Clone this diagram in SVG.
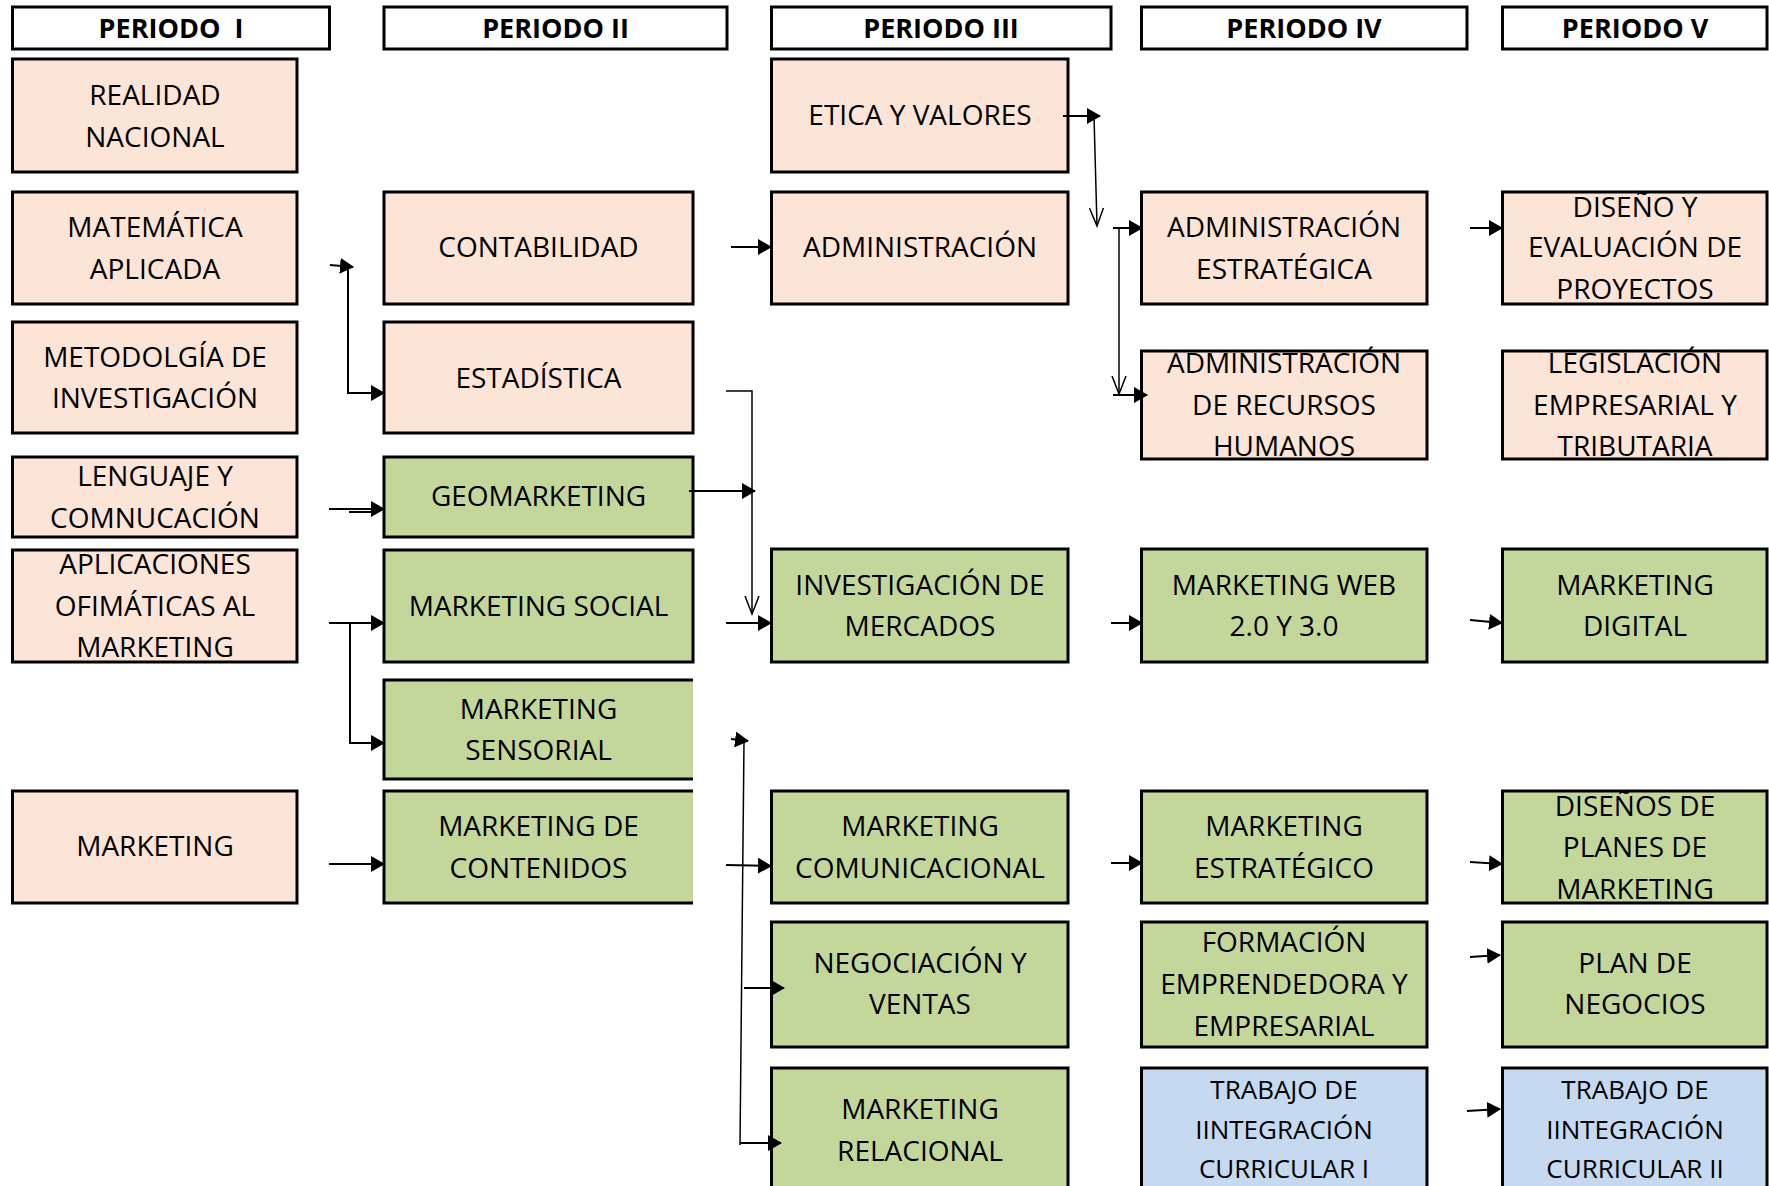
<svg xmlns="http://www.w3.org/2000/svg" width="1769" height="1186" viewBox="0 0 1769 1186">
<defs>
<style>
.hdr{fill:#fff;stroke:#000;stroke-width:3}
.peach{fill:#FCE4D6;stroke:#000;stroke-width:3}
.green{fill:#C4D79B;stroke:#000;stroke-width:3}
.blue{fill:#C5D9F1;stroke:#000;stroke-width:3}
.gfill{fill:#C4D79B;stroke:none}
.edge{fill:none;stroke:#000;stroke-width:3}
text{font-family:"Open Sans","Noto Sans","DejaVu Sans",sans-serif;font-size:28px;fill:#000;text-anchor:middle}
.h{font-weight:bold;font-size:27px;white-space:pre}
.s{font-size:26px}
.c{fill:none;stroke:#000;stroke-width:2}
.ct{fill:none;stroke:#000;stroke-width:1.5}
</style>
<marker id="ah" markerUnits="userSpaceOnUse" markerWidth="14" markerHeight="16" refX="13" refY="8" orient="auto"><path d="M0,0 L14,8 L0,16 z" fill="#000"/></marker>
<marker id="av" markerUnits="userSpaceOnUse" markerWidth="20" markerHeight="18" refX="18" refY="9" orient="auto"><path d="M0,2 L18,9 L0,16" fill="none" stroke="#000" stroke-width="1.5"/></marker>
</defs>
<rect width="1769" height="1186" fill="#fff"/>

<g id="headers">
<g id="h1"><rect class="hdr" x="12.5" y="7" width="317" height="42"/><text class="h" x="171" y="38">PERIODO  I</text></g>
<g id="h2"><rect class="hdr" x="384" y="7" width="343" height="42"/><text class="h" x="555.5" y="38">PERIODO II</text></g>
<g id="h3"><rect class="hdr" x="771.5" y="7" width="339.5" height="42"/><text class="h" x="941" y="38">PERIODO III</text></g>
<g id="h4"><rect class="hdr" x="1141.5" y="7" width="325.5" height="42"/><text class="h" x="1304" y="38">PERIODO IV</text></g>
<g id="h5"><rect class="hdr" x="1502.5" y="7" width="264.5" height="42"/><text class="h" x="1635" y="38">PERIODO V</text></g>
</g>

<g id="periodo1">
<g id="realidad"><rect class="peach" x="12.5" y="59" width="284.5" height="113"/><text x="155" y="105">REALIDAD</text><text x="155" y="146.5">NACIONAL</text></g>
<g id="matematica"><rect class="peach" x="12.5" y="192" width="284.5" height="112"/><text x="155" y="237">MATEMÁTICA</text><text x="155" y="278.5">APLICADA</text></g>
<g id="metodologia"><rect class="peach" x="12.5" y="322" width="284.5" height="111"/><text x="155" y="366.5">METODOLGÍA DE</text><text x="155" y="408">INVESTIGACIÓN</text></g>
<g id="lenguaje"><rect class="peach" x="12.5" y="457" width="284.5" height="80"/><text x="155" y="486">LENGUAJE Y</text><text x="155" y="528">COMNUCACIÓN</text></g>
<g id="aplicaciones"><rect class="peach" x="12.5" y="550" width="284.5" height="112"/><text x="155" y="574">APLICACIONES</text><text x="155" y="616">OFIMÁTICAS AL</text><text x="155" y="656.5">MARKETING</text></g>
<g id="marketing"><rect class="peach" x="12.5" y="791" width="284.5" height="112"/><text x="155" y="856">MARKETING</text></g>
</g>

<g id="periodo2">
<g id="contabilidad"><rect class="peach" x="384" y="192" width="309" height="112"/><text x="538.5" y="257">CONTABILIDAD</text></g>
<g id="estadistica"><rect class="peach" x="384" y="322" width="309" height="111"/><text x="538.5" y="388">ESTADÍSTICA</text></g>
<g id="geomarketing"><rect class="green" x="384" y="457" width="309" height="80"/><text x="538.5" y="506">GEOMARKETING</text></g>
<g id="mkt-social"><rect class="green" x="384" y="550" width="309" height="112"/><text x="538.5" y="616">MARKETING SOCIAL</text></g>
<g id="mkt-sensorial"><rect class="gfill" x="384" y="680" width="309" height="99"/><path class="edge" d="M693,680 H384 V779 H693"/><text x="538.5" y="718.5">MARKETING</text><text x="538.5" y="760">SENSORIAL</text></g>
<g id="mkt-contenidos"><rect class="gfill" x="384" y="791" width="309" height="112"/><path class="edge" d="M693,791 H384 V903 H693"/><text x="538.5" y="836">MARKETING DE</text><text x="538.5" y="877.6">CONTENIDOS</text></g>
</g>

<g id="periodo3">
<g id="etica"><rect class="peach" x="771.5" y="59" width="296.5" height="113"/><text x="920" y="125">ETICA Y VALORES</text></g>
<g id="administracion"><rect class="peach" x="771.5" y="192" width="296.5" height="112"/><text x="920" y="257">ADMINISTRACIÓN</text></g>
<g id="investigacion"><rect class="green" x="771.5" y="549" width="296.5" height="113"/><text x="920" y="594.5">INVESTIGACIÓN DE</text><text x="920" y="636">MERCADOS</text></g>
<g id="mkt-comunicacional"><rect class="green" x="771.5" y="791" width="296.5" height="112"/><text x="920" y="836">MARKETING</text><text x="920" y="877.6">COMUNICACIONAL</text></g>
<g id="negociacion"><rect class="green" x="771.5" y="922" width="296.5" height="125"/><text x="920" y="972.5">NEGOCIACIÓN Y</text><text x="920" y="1014">VENTAS</text></g>
<g id="mkt-relacional"><rect class="green" x="771.5" y="1068" width="296.5" height="140"/><text x="920" y="1119">MARKETING</text><text x="920" y="1161">RELACIONAL</text></g>
</g>

<g id="periodo4">
<g id="admin-estrategica"><rect class="peach" x="1141.5" y="192" width="285.5" height="112"/><text x="1284" y="237">ADMINISTRACIÓN</text><text x="1284" y="278.5">ESTRATÉGICA</text></g>
<g id="admin-rrhh"><rect class="peach" x="1141.5" y="351" width="285.5" height="108"/><text x="1284" y="373">ADMINISTRACIÓN</text><text x="1284" y="415">DE RECURSOS</text><text x="1284" y="455.6">HUMANOS</text></g>
<g id="mkt-web"><rect class="green" x="1141.5" y="549" width="285.5" height="113"/><text x="1284" y="594.5">MARKETING WEB</text><text x="1284" y="636">2.0 Y 3.0</text></g>
<g id="mkt-estrategico"><rect class="green" x="1141.5" y="791" width="285.5" height="112"/><text x="1284" y="836">MARKETING</text><text x="1284" y="877.6">ESTRATÉGICO</text></g>
<g id="formacion"><rect class="green" x="1141.5" y="922" width="285.5" height="125"/><text x="1284" y="952">FORMACIÓN</text><text x="1284" y="994">EMPRENDEDORA Y</text><text x="1284" y="1035.5">EMPRESARIAL</text></g>
<g id="trabajo1"><rect class="blue" x="1141.5" y="1068" width="285.5" height="140"/><text class="s" x="1284" y="1099">TRABAJO DE</text><text class="s" x="1284" y="1138.5">IINTEGRACIÓN</text><text class="s" x="1284" y="1178">CURRICULAR I</text></g>
</g>

<g id="periodo5">
<g id="diseno-proyectos"><rect class="peach" x="1502.5" y="192" width="264.5" height="112"/><text x="1635" y="216.5">DISEÑO Y</text><text x="1635" y="257">EVALUACIÓN DE</text><text x="1635" y="299">PROYECTOS</text></g>
<g id="legislacion"><rect class="peach" x="1502.5" y="351" width="264.5" height="108"/><text x="1635" y="373">LEGISLACIÓN</text><text x="1635" y="415">EMPRESARIAL Y</text><text x="1635" y="455.6">TRIBUTARIA</text></g>
<g id="mkt-digital"><rect class="green" x="1502.5" y="549" width="264.5" height="113"/><text x="1635" y="594.5">MARKETING</text><text x="1635" y="636">DIGITAL</text></g>
<g id="disenos-planes"><rect class="green" x="1502.5" y="791" width="264.5" height="112"/><text x="1635" y="815.5">DISEÑOS DE</text><text x="1635" y="857">PLANES DE</text><text x="1635" y="899">MARKETING</text></g>
<g id="plan-negocios"><rect class="green" x="1502.5" y="922" width="264.5" height="125"/><text x="1635" y="972.5">PLAN DE</text><text x="1635" y="1014">NEGOCIOS</text></g>
<g id="trabajo2"><rect class="blue" x="1502.5" y="1068" width="264.5" height="140"/><text class="s" x="1635" y="1099">TRABAJO DE</text><text class="s" x="1635" y="1138.5">IINTEGRACIÓN</text><text class="s" x="1635" y="1178">CURRICULAR II</text></g>
</g>

<g id="connectors">
<path class="c" d="M330,265 L353,267" marker-end="url(#ah)"/>
<path class="c" d="M348,266 V393 H384" marker-end="url(#ah)"/>
<path class="c" d="M731,247 H771" marker-end="url(#ah)"/>
<path class="ct" d="M726,391 H752 V614" marker-end="url(#av)"/>
<path class="c" d="M689,491 H755" marker-end="url(#ah)"/>
<path class="c" d="M726,623 H771" marker-end="url(#ah)"/>
<path class="c" d="M329,509 H384" marker-end="url(#ah)"/>
<path class="c" d="M349,512 H372"/>
<path class="c" d="M329,623 H384" marker-end="url(#ah)"/>
<path class="c" d="M350,623 V743 H384" marker-end="url(#ah)"/>
<path class="c" d="M329,864 H384" marker-end="url(#ah)"/>
<path class="c" d="M731,739 L748,741" marker-end="url(#ah)"/>
<path class="ct" d="M744,741 L740,1145"/>
<path class="c" d="M726,865 L771,866" marker-end="url(#ah)"/>
<path class="c" d="M744,988 H784" marker-end="url(#ah)"/>
<path class="c" d="M740,1143 H781" marker-end="url(#ah)"/>
<path class="c" d="M1063,116 H1100" marker-end="url(#ah)"/>
<path class="ct" d="M1094,116 L1097,226" marker-end="url(#av)"/>
<path class="c" d="M1113,228 H1142" marker-end="url(#ah)"/>
<path class="ct" d="M1119,228 V394" marker-end="url(#av)"/>
<path class="c" d="M1113,395 H1147" marker-end="url(#ah)"/>
<path class="c" d="M1470,228 H1502" marker-end="url(#ah)"/>
<path class="c" d="M1111,623 H1142" marker-end="url(#ah)"/>
<path class="c" d="M1470,620 L1502,623" marker-end="url(#ah)"/>
<path class="c" d="M1111,863 H1142" marker-end="url(#ah)"/>
<path class="c" d="M1470,862 L1502,864" marker-end="url(#ah)"/>
<path class="c" d="M1470,957 L1500,955" marker-end="url(#ah)"/>
<path class="c" d="M1467,1111 L1500,1109" marker-end="url(#ah)"/>
</g>
</svg>
